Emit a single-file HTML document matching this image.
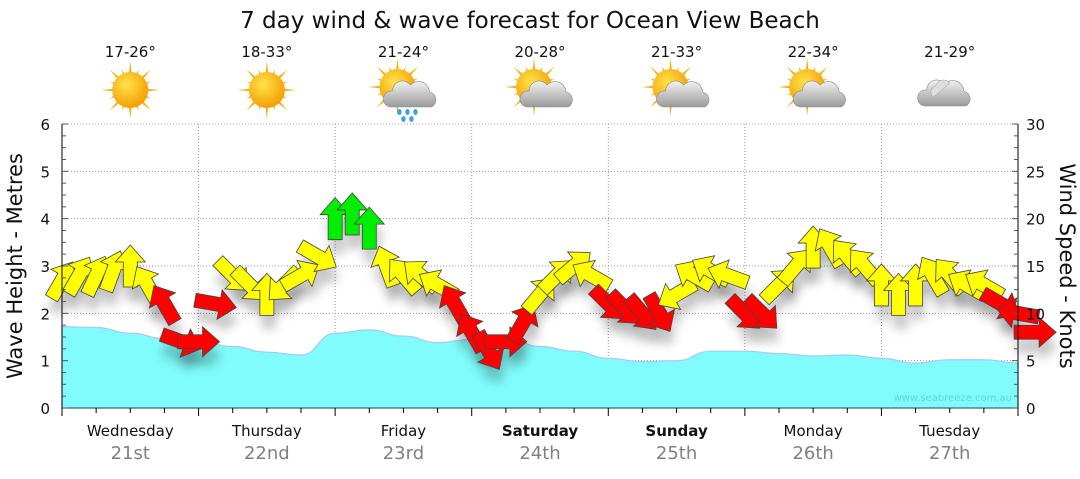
<!DOCTYPE html>
<html><head><meta charset="utf-8"><style>
body{margin:0;background:#fff;width:1080px;height:475px;overflow:hidden;font-family:"DejaVu Sans","Liberation Sans",sans-serif}
svg text{font-family:"DejaVu Sans","Liberation Sans",sans-serif}
</style></head><body>
<svg id="chart" width="1080" height="475" viewBox="0 0 1080 475" xmlns="http://www.w3.org/2000/svg">
<defs>
<filter id="sh" x="-50%" y="-50%" width="200%" height="200%"><feGaussianBlur stdDeviation="5"/></filter>
<radialGradient id="sun" cx="0.4" cy="0.35" r="0.7"><stop offset="0" stop-color="#ffe24a"/><stop offset="1" stop-color="#f39a00"/></radialGradient>
<linearGradient id="cloud" x1="0" y1="0" x2="0" y2="1"><stop offset="0" stop-color="#f2f2f2"/><stop offset="1" stop-color="#9a9a9a"/></linearGradient>
</defs>
<text x="530" y="28" font-size="23" text-anchor="middle" fill="#111">7 day wind &amp; wave forecast for Ocean View Beach</text>
<g id="header"></g>
<g id="grid"></g>
<g id="swell"></g>
<g id="shadows"></g>
<g id="arrows"></g>
<g id="axes"></g>
<text x="1012" y="401" font-size="10" text-anchor="end" fill="#5fd4dc">www.seabreeze.com.au</text>
<text transform="translate(22,266) rotate(-90)" font-size="21" text-anchor="middle" fill="#111">Wave Height - Metres</text>
<text transform="translate(1060,266) rotate(90)" font-size="21" text-anchor="middle" fill="#111">Wind Speed - Knots</text>
</svg>
<script>
const days=["Wednesday","Thursday","Friday","Saturday","Sunday","Monday","Tuesday"];
const dates=["21st","22nd","23rd","24th","25th","26th","27th"];
const temps=["17-26°","18-33°","21-24°","20-28°","21-33°","22-34°","21-29°"];
const icons=["sun","sun","rain","suncloud","suncloud","suncloud","cloud"];
const boldDays=[false,false,false,true,true,false,false];
// swell height metres, 6-hourly
const swell=[1.72,1.70,1.58,1.47,1.40,1.30,1.18,1.12,1.58,1.65,1.52,1.38,1.45,1.50,1.30,1.20,1.05,0.98,1.00,1.20,1.20,1.15,1.10,1.12,1.05,0.95,1.02,1.02,0.95];
// wind 3-hourly: speed knots, direction arrow points (deg, 0=up), colour class
const windSpeed=[13.5,14,14,14.5,15,13,11,7, 7,11,14,13,12,13,14,16, 20,20.5,19,15,14,14,13,11, 8,6,7,9,12,14,15,14, 11,10.5,10,10,12,14,14.5,14, 10,10,13,15,17,17,16,15, 13,12,13,14,14,13,13,11, 10,8];
const windDir=[30,30,25,20,0,-30,-30,110, 90,100,135,135,0,225,60,120, 0,0,0,-20,-40,-50,-60,-30, -30,150,90,30,40,45,50,-60, 135,135,140,150,240,-60,-60,-70, 135,135,45,40,0,-30,-40,-40, 0,0,0,-30,-40,-60,-60,120, -80,90];
const windCls=["y","y","y","y","y","y","r","r", "r","r","y","y","y","y","y","y", "g","g","g","y","y","y","y","r", "r","r","r","r","y","y","y","y", "r","r","r","r","y","y","y","y", "r","r","y","y","y","y","y","y", "y","y","y","y","y","y","y","r", "r","r"];
const leftTicks=[0,1,2,3,4,5,6];
const rightTicks=[0,5,10,15,20,25,30];

const X0=62,X1=1018,Y0=408,Y1=124,DW=(X1-X0)/7;
const xh=h=>X0+(X1-X0)*h/168;
const ym=m=>Y0-(Y0-Y1)*m/6;
const yk=k=>Y0-(Y0-Y1)*k/30;
const NS="http://www.w3.org/2000/svg";
function mk(tag,attrs,parent){const e=document.createElementNS(NS,tag);for(const k in attrs)e.setAttribute(k,attrs[k]);parent.appendChild(e);return e;}
const G=id=>document.getElementById(id);

// header
days.forEach((d,i)=>{
 const cx=X0+DW*(i+0.5);
 const t=mk("text",{x:cx,y:57,"font-size":15,"text-anchor":"middle",fill:"#111"},G("header"));
 t.textContent=temps[i];
 
 
 const g=mk("g",{transform:`translate(${cx},90)`},G("header"));
 
 
 const ic=icons[i];
 if(ic!=="cloud"){
  const sx=ic==="sun"?0:-6,sy=ic==="sun"?0:-3;
  for(let a=0;a<16;a++){const ang=a*Math.PI/8,L=a%2?22:29;
   mk("polygon",{points:`${sx+Math.cos(ang-0.12)*14},${sy+Math.sin(ang-0.12)*14} ${sx+Math.cos(ang)*L},${sy+Math.sin(ang)*L} ${sx+Math.cos(ang+0.12)*14},${sy+Math.sin(ang+0.12)*14}`,fill:"#f2b21a"},g);}
  mk("circle",{cx:sx,cy:sy,r:18,fill:"url(#sun)"},g);
 }
 if(ic!=="sun"){
  const ox=ic==="cloud"?-4:8,oy=ic==="cloud"?5:6;
  mk("path",{d:`M${ox-21},${oy+11} a8,8 0 0 1 2,-16 a10,10 0 0 1 18,-6 a11,11 0 0 1 19,7 a8,8 0 0 1 2,15 z`,fill:"url(#cloud)",stroke:"#8a8a8a","stroke-width":0.6},g);
  if(ic==="cloud")mk("path",{d:`M${ox-12},${oy+2} a6,6 0 0 1 2,-11 a8,8 0 0 1 14,-3 z`,fill:"#ddd",stroke:"#999","stroke-width":0.5},g);
  if(ic==="rain")[[-12,16],[-4,16],[4,16],[-8,23],[0,23]].forEach(p=>mk("ellipse",{cx:ox+p[0],cy:oy+p[1],rx:2.2,ry:3,fill:"#3fa0e0"},g));
 }
});

// grid
for(let m=1;m<=6;m++){const l=mk("line",{x1:X0,x2:X1,y1:ym(m),y2:ym(m),stroke:"#999","stroke-width":1,"stroke-dasharray":"1,2"},G("grid"));}
for(let d=1;d<7;d++){const l=mk("line",{x1:X0+DW*d,x2:X0+DW*d,y1:Y1,y2:Y0,stroke:"#999","stroke-width":1,"stroke-dasharray":"1,2"},G("grid"));}

// swell area
{let pts=swell.map((v,i)=>[xh(i*6),ym(v)]);
 let d=`M${X0},${Y0} L${pts[0][0]},${pts[0][1]}`;
 for(let i=1;i<pts.length;i++){const p=pts[i-1],q=pts[i],mx=(p[0]+q[0])/2;d+=` C${mx},${p[1]} ${mx},${q[1]} ${q[0]},${q[1]}`;}
 d+=` L${X1},${Y0} Z`;
 const a=mk("path",{d,fill:"#80fcfc",stroke:"#a8c8f8","stroke-width":1.2},G("swell"));
 }

// arrows
const col={y:"#ffff00",r:"#ff0000",g:"#00ee00"};
const shape="0,-21 15,-4 7,-4 7,21 -7,21 -7,-4 -15,-4";
windSpeed.forEach((s,i)=>{
 const x=xh(i*3),y=yk(s);
 mk("polygon",{points:shape,transform:`translate(${x+2},${y+14}) rotate(${windDir[i]})`,fill:"#000","fill-opacity":0.22,filter:"url(#sh)"},G("shadows"));
 const p=mk("polygon",{points:shape,transform:`translate(${x},${y}) rotate(${windDir[i]})`,fill:col[windCls[i]],stroke:"#444","stroke-width":0.8},G("arrows"));
 
 
});

// axes
const ax=G("axes");
mk("line",{x1:X0,x2:X0,y1:Y1,y2:Y0,stroke:"#000"},ax);
mk("line",{x1:X1,x2:X1,y1:Y1,y2:Y0,stroke:"#000"},ax);
mk("line",{x1:X0,x2:X1,y1:Y0,y2:Y0,stroke:"#1c4a6a"},ax);
for(let i=0;i<=24;i++){const y=ym(i/4),L=i%4?4:6;mk("line",{x1:X0,x2:X0+L,y1:y,y2:y,stroke:"#555"},ax);mk("line",{x1:X1-L,x2:X1,y1:y,y2:y,stroke:"#555"},ax);}
leftTicks.forEach(v=>{const t=mk("text",{x:50,y:ym(v)+6,"font-size":15,"text-anchor":"end",fill:"#111"},ax);t.textContent=v;});
rightTicks.forEach(v=>{const t=mk("text",{x:1026,y:yk(v)+6,"font-size":15,"text-anchor":"start",fill:"#111"},ax);t.textContent=v;});
for(let i=0;i<=28;i++){const x=xh(i*6),L=i%4?5:8;mk("line",{x1:x,x2:x,y1:Y0,y2:Y0+L,stroke:"#000"},ax);}
days.forEach((d,i)=>{const cx=X0+DW*(i+0.5);
 const t=mk("text",{x:cx,y:436,"font-size":15,"text-anchor":"middle",fill:"#111","font-weight":boldDays[i]?"bold":"normal"},ax);t.textContent=d;
 const t2=mk("text",{x:cx,y:459,"font-size":18,"text-anchor":"middle",fill:"#808080"},ax);t2.textContent=dates[i];});
</script>
</body></html>
